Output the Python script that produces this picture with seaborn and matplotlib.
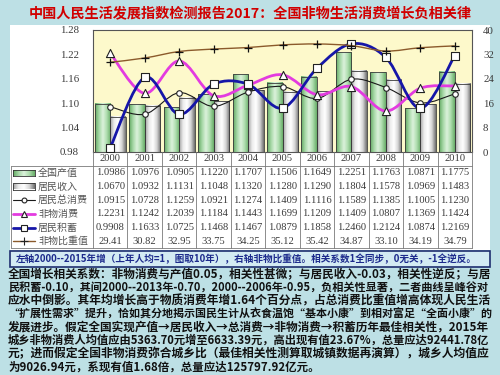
import numpy as np
import pandas as pd
import matplotlib
matplotlib.use("Agg")
import matplotlib.pyplot as plt
import seaborn as sns
from matplotlib.path import Path
from matplotlib.patches import PathPatch, Rectangle
from matplotlib.lines import Line2D
from matplotlib.colors import LinearSegmentedColormap
from matplotlib.transforms import blended_transform_factory

# ----------------------------
# Data
# ----------------------------
years = ["2000", "2001", "2002", "2003", "2004", "2005", "2006", "2007", "2008", "2009", "2010"]
output_idx = [1.0986, 1.0976, 1.0905, 1.1220, 1.1707, 1.1506, 1.1649, 1.2251, 1.1763, 1.0871, 1.1775]
income_idx = [1.0670, 1.0932, 1.1131, 1.1048, 1.1320, 1.1280, 1.1290, 1.1804, 1.1578, 1.0969, 1.1483]
consume_idx = [1.0915, 1.0728, 1.1259, 1.0921, 1.1274, 1.1409, 1.1116, 1.1589, 1.1385, 1.1005, 1.1230]
nonmat_idx = [1.2231, 1.1242, 1.2039, 1.1184, 1.1443, 1.1699, 1.1209, 1.1409, 1.0807, 1.1369, 1.1424]
saving_idx = [0.9908, 1.1633, 1.0725, 1.1468, 1.1467, 1.0879, 1.1858, 1.2460, 1.2124, 1.0874, 1.2169]
nonmat_share = [29.41, 30.82, 32.95, 33.75, 34.25, 35.12, 35.42, 34.87, 33.10, 34.19, 34.79]

left_ticks = [0.98, 1.04, 1.10, 1.16, 1.22, 1.28]
right_ticks = [0, 8, 16, 24, 32, 40]

title = "中国人民生活发展指数检测报告2017：全国非物生活消费增长负相关律"
note = "左轴2000--2015年增（上年人均=1，图取10年），右轴非物比重值。相关系数1全同步，0无关，-1全逆反。"
body_lines = [
    "全国增长相关系数：非物消费与产值0.05，相关性甚微；与居民收入-0.03，相关性逆反；与居",
    "民积蓄-0.10，其间2000--2013年-0.70，2000--2006年-0.95，负相关性显著，二者曲线呈峰谷对",
    "应水中倒影。其年均增长高于物质消费年增1.64个百分点，占总消费比重值增高体现人民生活",
    "“扩展性需求”提升，恰如其分地揭示国民生计从衣食温饱“基本小康”到相对富足“全面小康”的",
    "发展进步。假定全国实现产值→居民收入→总消费→非物消费→积蓄历年最佳相关性，2015年",
    "城乡非物消费人均值应由5363.70元增至6633.39元，高出现有值23.67%，总量应达92441.78亿",
    "元；进而假定全国非物消费弥合城乡比（最佳相关性测算取城镇数据再演算），城乡人均值应",
    "为9026.94元，系现有值1.68倍，总量应达125797.92亿元。",
]

# ----------------------------
# Style
# ----------------------------
sns.set_style("white")
plt.rcParams["font.family"] = ["Noto Sans CJK SC", "DejaVu Sans"]

W, H = 500, 375
BG = "#bde0e5"
PLOT_BG = "#fdf9cb"
GREEN = "#9fd19f"
GREY = "#d8d8d8"
PINK = "#e33be0"
BLUE = "#1616a8"
BROWN = "#8b5a2b"
SERIF = ["Liberation Serif", "DejaVu Serif"]
TXT = "#3a3a3a"


def fx(px):
    return px / W


def fy(py):
    return 1 - py / H


def smooth_path(xs, ys):
    """Catmull-Rom style smooth curve through the points (Excel 'smoothed line')."""
    n = len(xs)
    verts = [(xs[0], ys[0])]
    codes = [Path.MOVETO]
    for i in range(n - 1):
        a = max(i - 1, 0)
        d = min(i + 2, n - 1)
        c1 = (xs[i] + (xs[i + 1] - xs[a]) / 6, ys[i] + (ys[i + 1] - ys[a]) / 6)
        c2 = (xs[i + 1] - (xs[d] - xs[i]) / 6, ys[i + 1] - (ys[d] - ys[i]) / 6)
        verts += [c1, c2, (xs[i + 1], ys[i + 1])]
        codes += [Path.CURVE4] * 3
    return Path(verts, codes)


green_cmap = LinearSegmentedColormap.from_list("g", ["#62a862", "#a6d8a6", "#dcf2dc", "#acdcac", "#68ad68"])
grey_cmap = LinearSegmentedColormap.from_list("w", ["#a0a0a0", "#ececec", "#ffffff", "#d6d6d6", "#707070"])
grad = np.linspace(0, 1, 64).reshape(1, -1)

fig = plt.figure(figsize=(5, 3.75), dpi=100, facecolor=BG)

# white chart panel
fig.add_artist(Rectangle((fx(10), fy(250)), fx(480), 225 / H, transform=fig.transFigure,
                         facecolor="white", edgecolor="none", zorder=0))

ax = fig.add_axes([fx(93), fy(152), fx(472 - 93), (152 - 30) / H])
ax.set_facecolor(PLOT_BG)

# ----------------------------
# Bars
# ----------------------------
bars = pd.DataFrame({
    "year": years * 2,
    "value": output_idx + income_idx,
    "series": ["全国产值"] * len(years) + ["居民收入"] * len(years),
})
sns.barplot(data=bars, x="year", y="value", hue="series", order=years,
            hue_order=["全国产值", "居民收入"], palette=[GREEN, GREY],
            width=0.9, edgecolor="#3a3a3a", linewidth=0.6, legend=False, ax=ax)

y_bottom = left_ticks[0]
for cont, cmap in zip(ax.containers, [green_cmap, grey_cmap]):
    for p in cont.patches:
        x0, w, h = p.get_x(), p.get_width(), p.get_height()
        im = ax.imshow(grad, cmap=cmap, aspect="auto", extent=[x0, x0 + w, y_bottom, h],
                       zorder=p.get_zorder() - 0.1, interpolation="bilinear")
        im.set_clip_path(p)
        im.set_clip_box(ax.bbox)
        p.set_facecolor("none")

xpos = np.arange(len(years))
ax.set_xlim(-0.5, len(years) - 0.5)
ax.set_ylim(0.98, 1.28)

# ----------------------------
# Lines (left axis)
# ----------------------------
for vals, color, lw, marker, ms in [
    (consume_idx, "#1a1a1a", 0.8, "o", 16),
    (nonmat_idx, PINK, 2.0, "^", 34),
    (saving_idx, BLUE, 2.0, "s", 30),
]:
    ax.add_patch(PathPatch(smooth_path(xpos, vals), facecolor="none", edgecolor=color,
                           lw=lw, zorder=4, capstyle="round"))
    sns.scatterplot(x=xpos, y=vals, marker=marker, s=ms, color="white",
                    edgecolor="#222222", linewidth=0.8, zorder=5, ax=ax, legend=False)

ax.set_yticks(left_ticks)
ax.set_yticklabels([f"{t:.2f}" for t in left_ticks], fontfamily=SERIF, fontsize=7.8, color=TXT)
ax.set_xticks([])
ax.set_xlabel("")
ax.set_ylabel("")
ax.tick_params(axis="y", length=0, pad=10)
for s in ax.spines.values():
    s.set_color("#555555")
    s.set_linewidth(0.8)

# ----------------------------
# Right axis: share value
# ----------------------------
ax2 = ax.twinx()
ax2.set_ylim(0, 40)
ax2.add_patch(PathPatch(smooth_path(xpos, nonmat_share), facecolor="none", edgecolor=BROWN,
                        lw=1.0, zorder=4))
sns.scatterplot(x=xpos, y=nonmat_share, marker="+", s=40, color="#111111",
                linewidth=0.9, zorder=5, ax=ax2, legend=False)
ax2.set_yticks(right_ticks)
ax2.set_yticklabels([str(t) for t in right_ticks], fontfamily=SERIF, fontsize=7.8, color=TXT)
ax2.tick_params(axis="y", length=0, pad=8)
ax2.set_xlim(-0.5, len(years) - 0.5)
ax2.set_ylabel("")
for s in ax2.spines.values():
    s.set_visible(False)

# ----------------------------
# Data table under the plot
# ----------------------------
tr = blended_transform_factory(ax.transData, fig.transFigure)
line_kw = dict(color="#7a7a7a", lw=0.6)

fig.add_artist(Line2D([fx(11), fx(472)], [fy(166)] * 2, transform=fig.transFigure, **line_kw))
fig.add_artist(Line2D([fx(11), fx(472)], [fy(248)] * 2, transform=fig.transFigure, **line_kw))
fig.add_artist(Line2D([fx(11), fx(11)], [fy(166), fy(248)], transform=fig.transFigure, **line_kw))
for b in np.arange(len(years) + 1) - 0.5:
    fig.add_artist(Line2D([b, b], [fy(152), fy(248)], transform=tr, **line_kw))

for i, yr in enumerate(years):
    fig.text(i, fy(159), yr, transform=tr, ha="center", va="center",
             fontfamily=SERIF, fontsize=7.6, color=TXT)

rows = [
    ("全国产值", output_idx, "{:.4f}"),
    ("居民收入", income_idx, "{:.4f}"),
    ("居民总消费", consume_idx, "{:.4f}"),
    ("非物消费", nonmat_idx, "{:.4f}"),
    ("居民积蓄", saving_idx, "{:.4f}"),
    ("非物比重值", nonmat_share, "{:.2f}"),
]
row_h = (248 - 166) / len(rows)
for k, (label, vals, fmt) in enumerate(rows):
    yc = 166 + row_h * (k + 0.5)
    for i, v in enumerate(vals):
        fig.text(i, fy(yc), fmt.format(v), transform=tr, ha="center", va="center",
                 fontfamily=SERIF, fontsize=7.6, color=TXT)
    fig.text(fx(38), fy(yc), label, ha="left", va="center", fontsize=7.2, color="#555555")

# legend swatches in the label column
for k, cmap in enumerate([green_cmap, grey_cmap]):
    yc = 166 + row_h * (k + 0.5)
    sw = fig.add_axes([fx(13), fy(yc + 3), fx(22), 6 / H])
    sw.imshow(grad, cmap=cmap, aspect="auto", interpolation="bilinear")
    sw.set_xticks([])
    sw.set_yticks([])
    for s in sw.spines.values():
        s.set_color("#333333")
        s.set_linewidth(0.6)

for k, color, lw, marker, ms in [
    (2, "#1a1a1a", 0.8, "o", 3.5),
    (3, PINK, 2.0, "^", 5),
    (4, BLUE, 2.0, "s", 5),
    (5, BROWN, 1.0, "+", 6),
]:
    yc = fy(166 + row_h * (k + 0.5))
    fig.add_artist(Line2D([fx(13), fx(35)], [yc, yc], transform=fig.transFigure, color=color, lw=lw))
    fig.add_artist(Line2D([fx(24)], [yc], transform=fig.transFigure, marker=marker, ms=ms,
                          mfc="white" if marker != "+" else "#111111",
                          mec="#222222", mew=0.8, lw=0))

# ----------------------------
# Title, note box and text
# ----------------------------
fig.text(0.5, fy(13), title, ha="center", va="center", fontsize=10.2,
         fontweight="bold", color="#d10000")

fig.add_artist(Rectangle((fx(10), fy(267)), fx(480), 16 / H, transform=fig.transFigure,
                         facecolor="#d3ebf3", edgecolor="#1f2f70", lw=1.2))
fig.text(fx(16), fy(259), note, ha="left", va="center", fontsize=6.9,
         fontweight="bold", color="#1c2a8c")

renderer = fig.canvas.get_renderer()
sizes = []
for j, line in enumerate(body_lines):
    t = fig.text(fx(8), fy(275 + 13.1 * j), line, ha="left", va="center",
                 fontsize=8.4, fontweight="bold", color="#111111")
    if j < len(body_lines) - 1:
        w = t.get_window_extent(renderer).width
        t.set_fontsize(8.4 * 482 / w)
        sizes.append(8.4 * 482 / w)
    else:
        t.set_fontsize(np.mean(sizes))

fig.savefig("out.png", dpi=100, facecolor=BG)
